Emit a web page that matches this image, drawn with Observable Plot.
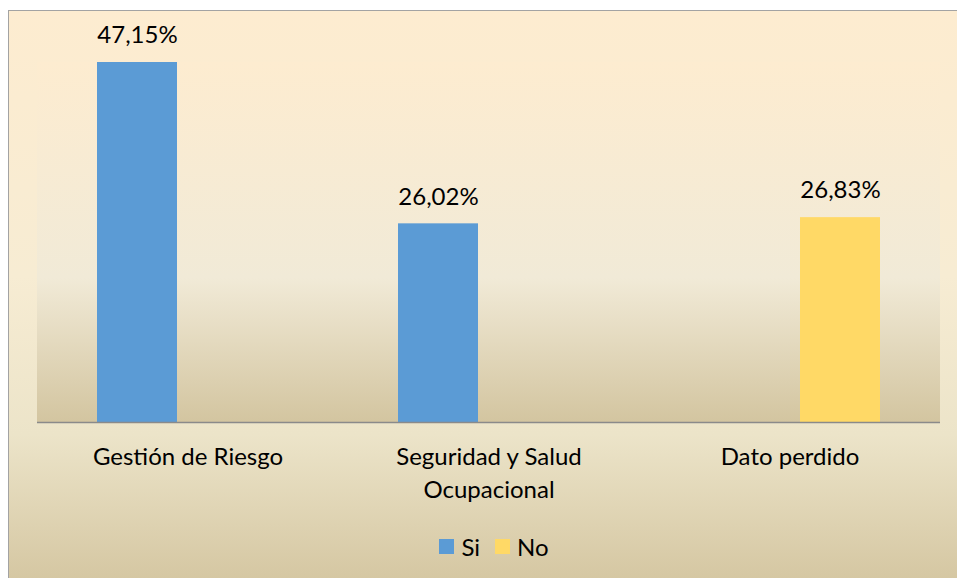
<!DOCTYPE html>
<html>
<head>
<meta charset="utf-8">
<script src="https://cdn.jsdelivr.net/npm/d3@7"></script>
<script src="https://cdn.jsdelivr.net/npm/@observablehq/plot@0.6"></script>
<style>
  html, body { margin: 0; padding: 0; background: #fff; }
  #frame {
    position: absolute; left: 8px; top: 10px; width: 970px; height: 590px;
    border: 1px solid #a3a3a3; box-sizing: border-box;
    background: linear-gradient(to bottom, #fdecd0 0%, #f7ecd3 45%, #ece4c9 72%, #d2c39d 100%);
  }
  #root { position: absolute; left: 0; top: 0; width: 957px; }
  #root svg { display: block; overflow: visible; }
  .lg-swatches { justify-content: center; font-family: Lato, sans-serif; font-size: 24px; color: #000; margin-left: 46px; }
  .lg-swatch { margin-right: 15px !important; }
  .lg-swatch > svg { margin-right: 7px !important; }
</style>
</head>
<body>
<div id="frame"></div>
<div id="root"></div>
<script>
const categories = ["Gestión de Riesgo", "Seguridad y Salud Ocupacional", "Dato perdido"];
const categoryLabels = ["Gestión de Riesgo", "Seguridad y Salud\nOcupacional", "Dato perdido"];
const series = ["Si", "No"];
const siValues = [47.15, 26.02, null];
const noValues = [null, null, 26.83];
const valueLabels = ["47,15%", "26,02%", "26,83%"];
const colors = ["#5b9bd5", "#ffd966"];

const rows = [];
categories.forEach((c, i) => {
  if (siValues[i] != null) rows.push({category: c, series: "Si", value: siValues[i], label: valueLabels[i]});
  if (noValues[i] != null) rows.push({category: c, series: "No", value: noValues[i], label: valueLabels[i]});
});
const labelOf = Object.fromEntries(categories.map((c, i) => [c, categoryLabels[i]]));

const chart = Plot.plot({
  width: 957,
  height: 520,
  marginTop: 62,
  marginBottom: 98,
  marginLeft: 37,
  marginRight: 17,
  style: {background: "transparent", fontFamily: "Lato, sans-serif", fontSize: "24px", color: "#000"},
  fx: {domain: categories, padding: 0},
  x: {domain: series, paddingInner: 0.21, paddingOuter: 0.594, axis: null},
  y: {domain: [0, d3.max(rows, d => d.value)], axis: null},
  color: {domain: series, range: colors},
  marks: [
    Plot.barY(rows, {fx: "category", x: "series", y: "value", fill: "series", inset: 0}),
    Plot.ruleY([0], {stroke: "#8a8a8a", strokeWidth: 1.5}),
    Plot.text(rows, {fx: "category", x: "series", y: "value", text: "label", dy: -27, lineAnchor: "middle", fill: "#000", fontSize: 24}),
    Plot.axisFx({anchor: "bottom", tickSize: 0, tickPadding: 19, label: null, lineHeight: 1.38, fontSize: 24, tickFormat: d => labelOf[d], fill: "#000"})
  ]
});

// Plot-area background, placed from the library's own scales
const fxRange = chart.scale("fx").range;
const yRange = chart.scale("y").range;
const svg = d3.select(chart);
const defs = svg.insert("defs", ":first-child");
const g = defs.append("linearGradient").attr("id", "plotGrad").attr("x1", 0).attr("y1", 0).attr("x2", 0).attr("y2", 1);
[[0, "#fdecd0"], [0.6, "#f1ead7"], [1, "#d3c5a0"]].forEach(([o, c]) => g.append("stop").attr("offset", o).attr("stop-color", c));
svg.insert("rect", "defs + *")
  .attr("x", Math.min(...fxRange)).attr("width", Math.abs(fxRange[1] - fxRange[0]))
  .attr("y", Math.min(...yRange)).attr("height", Math.abs(yRange[1] - yRange[0]))
  .attr("fill", "url(#plotGrad)");

const root = document.getElementById("root");
root.appendChild(chart);
const legend = Plot.legend({color: {type: "ordinal", domain: series, range: colors}, swatchSize: 15, className: "lg"});
legend.style.marginTop = "10px";
root.appendChild(legend);
</script>
</body>
</html>
